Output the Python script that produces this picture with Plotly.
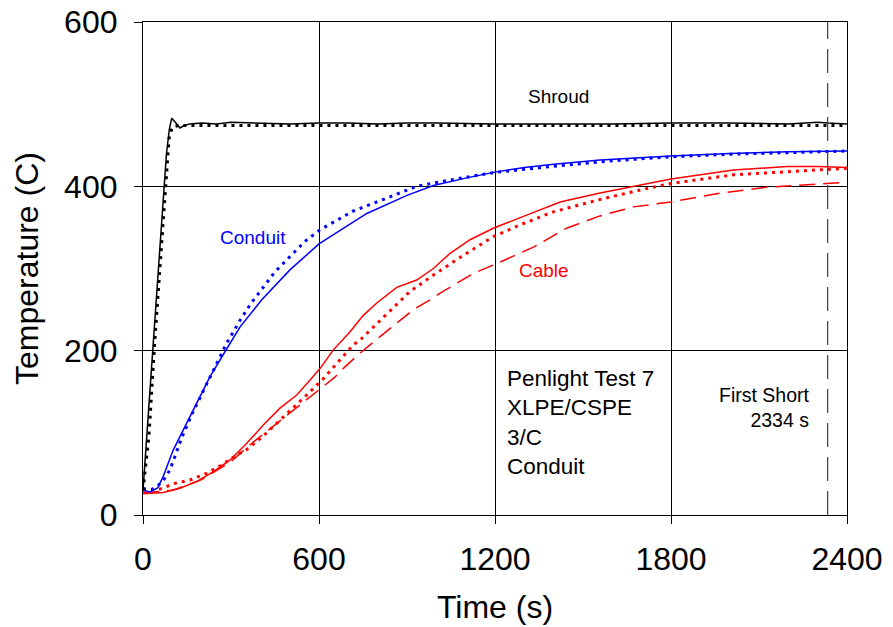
import plotly.graph_objects as go

# ---- data ----
shroud_t = [0, 20, 40, 60, 80, 90, 98, 110, 126, 140, 160, 200, 250, 300, 400, 500, 600, 700, 800, 900,
            1000, 1200, 1400, 1600, 1800, 2000, 2200, 2300, 2334, 2400]
shroud_v = [30, 135, 242, 347, 440, 470, 483, 478, 471, 474, 476, 477, 476, 478, 477, 476, 477, 477, 476, 477,
            477, 476, 476, 476, 477, 477, 476, 478, 477, 476]

shroud2_t = [0, 20, 40, 50, 60, 77, 89, 100, 120, 200, 400, 800, 1200, 1600, 2000, 2400]
shroud2_v = [30, 95, 210, 262, 315, 400, 459, 472, 474, 474, 474, 474, 474, 474, 474, 474]

conduit_t = [0, 24, 50, 69, 103, 166, 228, 280, 331, 405, 500, 600, 763, 900, 990, 1100, 1194, 1300, 1400,
             1558, 1700, 1800, 2000, 2200, 2400]
conduit_v = [30, 28, 33, 47, 79, 124, 168, 199, 229, 262, 298, 330, 367, 389, 401, 410, 417, 423, 427,
             432, 435, 437, 440, 442, 443]

conduit2_t = [0, 30, 52, 75, 92, 111, 132, 166, 217, 257, 285, 331, 367, 450, 552, 603, 717, 819, 933, 1035,
              1200, 1444, 1600, 1800, 2000, 2200, 2400]
conduit2_v = [32, 31, 36, 45, 55, 74, 94, 122, 160, 190, 209, 237, 257, 296, 333, 347, 370, 384, 400, 407,
              417, 426, 431, 436, 439, 441, 443]

cable_t = [0, 69, 126, 183, 240, 297, 353, 410, 467, 524, 569, 604, 649, 706, 751, 797, 865, 933, 990, 1047,
           1115, 1194, 1308, 1422, 1558, 1700, 1800, 2013, 2195, 2300, 2400]
cable_v = [26, 27.5, 32.5, 40.6, 52.7, 67, 87, 109.5, 130, 146, 164, 178.5, 201, 223, 243, 258, 277, 286, 300, 318.5,
           335, 349, 365, 381, 392, 402, 409, 420, 424, 424, 423]

cable2_t = [0, 58, 109, 160, 217, 268, 319, 351, 405, 456, 512, 564, 615, 666, 717, 746, 825, 910, 990, 1092,
            1194, 1285, 1399, 1558, 1700, 1800, 2013, 2195, 2400]
cable2_v = [30, 31.6, 38.5, 42.6, 50.7, 60.8, 73, 79, 94.5, 111.6, 130, 148, 166, 186.6, 207, 215, 243, 272, 292, 316,
            338.7, 353, 369, 384, 396, 403.5, 414, 418, 422]

cable3_t = [0, 100, 200, 300, 370, 433, 500, 560, 655, 683, 740, 808, 876, 922, 979, 1013, 1126, 1206, 1331,
            1444, 1558, 1672, 1800, 1956, 2126, 2297, 2400]
cable3_v = [27, 30, 43, 65, 87, 105, 124, 141, 168, 178.5, 197, 217, 237, 250, 262, 270, 294, 306, 326,
            349, 364, 375, 381, 391, 399, 403, 405]

short_t = 2334
x_ticks = [0, 600, 1200, 1800, 2400]
y_ticks = [0, 200, 400, 600]

FONT = "Liberation Sans, Arial, sans-serif"

fig = go.Figure()

def add(t, v, color, dash, width):
    fig.add_trace(go.Scatter(x=t, y=v, mode="lines", line=dict(color=color, dash=dash, width=width),
                             showlegend=False, hoverinfo="skip"))

add(cable3_t, cable3_v, "#ff0000", "16px,8px", 1.5)
add(cable2_t, cable2_v, "#ff0000", "3px,5px", 3)
add(cable_t, cable_v, "#ff0000", "solid", 1.5)
add(conduit2_t, conduit2_v, "#0000ff", "3px,5px", 3)
add(conduit_t, conduit_v, "#0000ff", "solid", 1.5)
add(shroud2_t, shroud2_v, "#000000", "3px,5px", 3)
add(shroud_t, shroud_v, "#000000", "solid", 1.5)

fig.add_trace(go.Scatter(x=[short_t, short_t], y=[0, 600], mode="lines",
                         line=dict(color="#404040", dash="24px,10px", width=1.2),
                         showlegend=False, hoverinfo="skip"))

ann = [
    dict(x=1418, y=509, text="Shroud", color="black"),
    dict(x=375, y=338, text="Conduit", color="#0000ff"),
    dict(x=1367, y=298, text="Cable", color="#ff0000"),
]
for a in ann:
    fig.add_annotation(x=a["x"], y=a["y"], text=a["text"], showarrow=False, xanchor="center",
                       yanchor="middle", font=dict(family=FONT, size=19, color=a["color"]))

fig.add_annotation(x=1234, y=113, text="Penlight Test 7<br>XLPE/CSPE<br>3/C<br>Conduit", showarrow=False,
                   xanchor="left", yanchor="middle", align="left",
                   font=dict(family=FONT, size=22.5, color="black"))
fig.add_annotation(x=2281, y=131, text="First Short<br>2334 s", showarrow=False,
                   xanchor="right", yanchor="middle", align="right",
                   font=dict(family=FONT, size=19.5, color="black"))

fig.update_layout(
    width=893, height=627,
    margin=dict(l=143, r=46, t=22, b=112),
    plot_bgcolor="white", paper_bgcolor="white",
    font=dict(family=FONT, color="black"),
    xaxis=dict(range=[0, 2400], tickvals=x_ticks, ticks="outside", ticklen=8, tickcolor="black",
               showline=True, linecolor="black", linewidth=1.2, mirror=True, automargin=False,
               showgrid=True, gridcolor="black", gridwidth=1, zeroline=False, ticklabeloverflow="allow",
               tickfont=dict(size=32, family=FONT), ticklabelstandoff=7,
               title=dict(text="Time (s)", font=dict(size=32, family=FONT), standoff=20)),
    yaxis=dict(range=[0, 600], tickvals=y_ticks, ticks="outside", ticklen=8, tickcolor="black",
               showline=True, linecolor="black", linewidth=1.2, mirror=True, automargin=False,
               showgrid=True, gridcolor="black", gridwidth=1, zeroline=False, ticklabeloverflow="allow",
               tickfont=dict(size=32, family=FONT), ticklabelstandoff=10,
               title=dict(text="Temperature (C)", font=dict(size=32, family=FONT), standoff=15)),
)

fig.write_html("out.html", config={"displayModeBar": False},
               post_script="document.body.style.margin='0';document.body.style.overflow='hidden';")
